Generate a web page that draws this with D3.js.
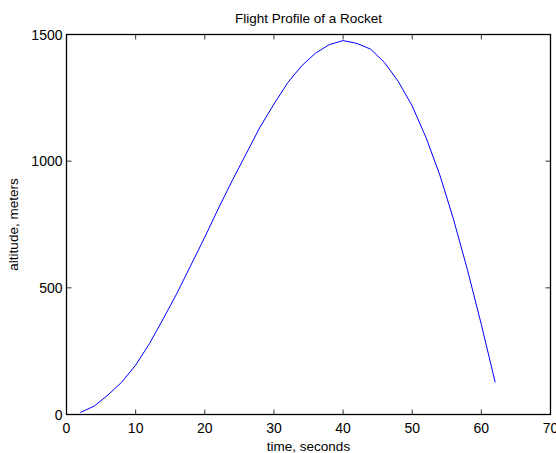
<!DOCTYPE html>
<html><head><meta charset="utf-8">
<script src="https://cdn.jsdelivr.net/npm/d3@7"></script>
<style>body{margin:0;background:#fff}svg{display:block}</style>
</head><body>
<script>
const time = [2,4,6,8,10,12,14,16,18,20,22,24,26,28,30,32,34,36,38,40,42,44,46,48,50,52,54,56,58,60,62];
const altitude = [8,33,77,128,195,280,378,480,590,700,815,925,1030,1135,1225,1310,1376,1426,1460,1476,1465,1442,1389,1314,1218,1093,945,768,570,355,127];
const xTicks = [0,10,20,30,40,50,60,70];
const yTicks = [0,500,1000,1500];
const title = "Flight Profile of a Rocket";
const xLabel = "time, seconds";
const yLabel = "altitude, meters";

const W = 556, H = 453;
const L = 66.5, R = 550.5, T = 34.5, B = 414.5;
const svg = d3.select("body").append("svg").attr("width", W).attr("height", H);
const x = d3.scaleLinear().domain([0,70]).range([L,R]);
const y = d3.scaleLinear().domain([0,1500]).range([B,T]);
const font = "Liberation Sans, Arial, sans-serif";

const tk = 5;
const g = svg.append("g").attr("stroke","#333").attr("stroke-width",1);
xTicks.forEach(v=>{
  g.append("line").attr("x1",x(v)).attr("x2",x(v)).attr("y1",B).attr("y2",B-tk);
  g.append("line").attr("x1",x(v)).attr("x2",x(v)).attr("y1",T).attr("y2",T+tk);
});
yTicks.forEach(v=>{
  g.append("line").attr("x1",L).attr("x2",L+tk).attr("y1",y(v)).attr("y2",y(v));
  g.append("line").attr("x1",R).attr("x2",R-tk).attr("y1",y(v)).attr("y2",y(v));
});
svg.append("rect").attr("x",L).attr("y",T).attr("width",R-L).attr("height",B-T)
  .attr("fill","none").attr("stroke","#000").attr("stroke-width",1.3);

svg.selectAll(".xt").data(xTicks).enter().append("text")
  .attr("x",d=>x(d)).attr("y",B+18).attr("text-anchor","middle")
  .attr("font-family",font).attr("font-size",14).text(d=>d);
svg.selectAll(".yt").data(yTicks).enter().append("text")
  .attr("x",L-4).attr("y",d=>y(d)+5).attr("text-anchor","end")
  .attr("font-family",font).attr("font-size",14).text(d=>d);

svg.append("text").attr("x",(L+R)/2).attr("y",23).attr("text-anchor","middle")
  .attr("font-family",font).attr("font-size",13.5).text(title);
svg.append("text").attr("x",(L+R)/2).attr("y",451).attr("text-anchor","middle")
  .attr("font-family",font).attr("font-size",13.5).text(xLabel);
svg.append("text").attr("transform",`translate(18,${(T+B)/2}) rotate(-90)`).attr("text-anchor","middle")
  .attr("font-family",font).attr("font-size",13.5).text(yLabel);

const line = d3.line().x((d,i)=>x(time[i])).y(d=>y(d));
svg.append("path").datum(altitude).attr("d",line).attr("fill","none")
  .attr("stroke","#0000ff").attr("stroke-width",1);
</script>
</body></html>
